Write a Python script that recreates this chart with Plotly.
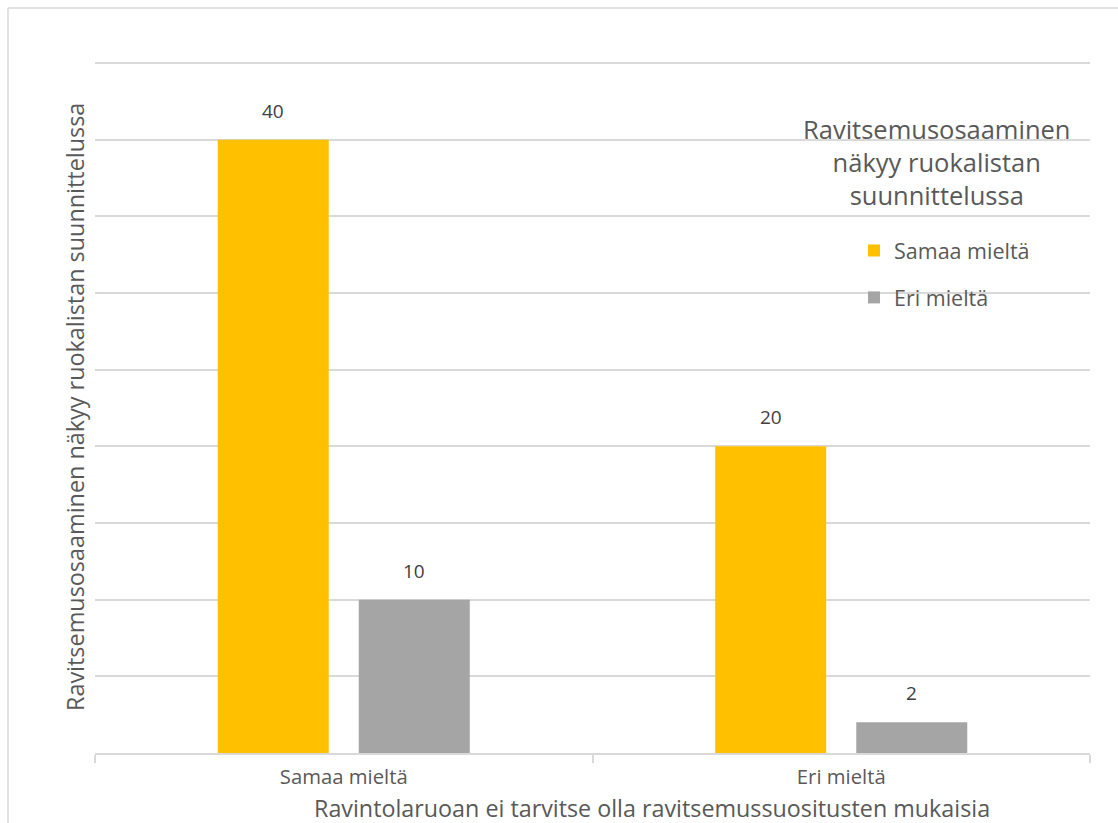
import plotly.graph_objects as go

# Survey answers: rows of the x axis, series in the legend
categories = ["Samaa mieltä", "Eri mieltä"]
series_names = ["Samaa mieltä", "Eri mieltä"]
samaa_values = [40, 20]
eri_values = [10, 2]
series_colors = ["#FFC000", "#A5A5A5"]

x_title = "Ravintolaruoan ei tarvitse olla ravitsemussuositusten mukaisia"
y_title = "Ravitsemusosaaminen näkyy ruokalistan suunnittelussa"
legend_title = "Ravitsemusosaaminen<br>näkyy ruokalistan<br>suunnittelussa"

W, H = 1118, 823
L, R, T, B = 95, 28, 62, 70
Y_MAX = 45.07
FONT = "Open Sans, Noto Sans, sans-serif"

fig = go.Figure()
for i, (name, vals, col) in enumerate(zip(series_names, [samaa_values, eri_values], series_colors)):
    fig.add_trace(go.Bar(
        x=categories, y=vals, name=name, marker=dict(color=col, line=dict(width=0)),
        legendgroup=f"g{i}",
    ))

pw, ph = W - L - R, H - T - B
def px_x(v):
    return (v - L) / pw
def px_y(v):
    return (H - B - v) / ph

# value labels above each bar
annotations = []
for i, vals in enumerate([samaa_values, eri_values]):
    for c, v in enumerate(vals):
        annotations.append(dict(
            x=c, y=v, xref="x", yref="y", text=str(v), showarrow=False,
            xshift=(-70.5 if i == 0 else 70.5), yanchor="bottom", yshift=14,
            font=dict(size=19, color="#404040", family=FONT),
        ))

# axis titles
annotations.append(dict(
    x=px_x(652), y=px_y(808), xref="paper", yref="paper",
    text=x_title, showarrow=False, xanchor="center", yanchor="middle",
    font=dict(size=23.3, color="#595959", family=FONT),
))
annotations.append(dict(
    x=px_x(75), y=px_y(407), xref="paper", yref="paper",
    text=y_title, showarrow=False, textangle=-90, xanchor="center", yanchor="middle",
    font=dict(size=23.4, color="#595959", family=FONT),
))
# legend heading
annotations.append(dict(
    x=px_x(937), y=px_y(162), xref="paper", yref="paper",
    text=legend_title, showarrow=False, xanchor="center", yanchor="middle",
    font=dict(size=25.5, color="#595959", family=FONT),
))

shapes = [
    dict(type="line", xref="paper", yref="paper", x0=px_x(8), x1=px_x(W + 5), y0=px_y(8), y1=px_y(8),
         line=dict(color="#d9d9d9", width=1.5)),
    dict(type="line", xref="paper", yref="paper", x0=px_x(8), x1=px_x(8), y0=px_y(8), y1=px_y(H + 5),
         line=dict(color="#d9d9d9", width=1.5)),
]

fig.update_layout(
    width=W, height=H,
    margin=dict(l=L, r=R, t=T, b=B, pad=0),
    paper_bgcolor="white", plot_bgcolor="white",
    barmode="group", bargap=0.433, bargroupgap=0.213,
    font=dict(family=FONT, color="#595959"),
    showlegend=True,
    legend=dict(
        x=px_x(854), y=px_y(230), xanchor="left", yanchor="top",
        font=dict(size=21.5, color="#595959", family=FONT),
        bgcolor="rgba(0,0,0,0)", traceorder="grouped", tracegroupgap=16,
        itemwidth=30,
    ),
    annotations=annotations,
    shapes=shapes,
    xaxis=dict(
        showgrid=False, showline=True, linecolor="#d9d9d9", linewidth=1.5,
        ticks="outside", tickson="boundaries", ticklen=8, tickcolor="#d9d9d9", tickwidth=1.5,
        tickfont=dict(size=20.3, color="#595959", family=FONT),
        ticklabelstandoff=5,
        fixedrange=True,
    ),
    yaxis=dict(
        range=[0, Y_MAX], dtick=5, showgrid=True, gridcolor="#d9d9d9", gridwidth=1.5,
        showticklabels=False, zeroline=False, showline=False, fixedrange=True,
    ),
)

fig.write_html("out.html")
